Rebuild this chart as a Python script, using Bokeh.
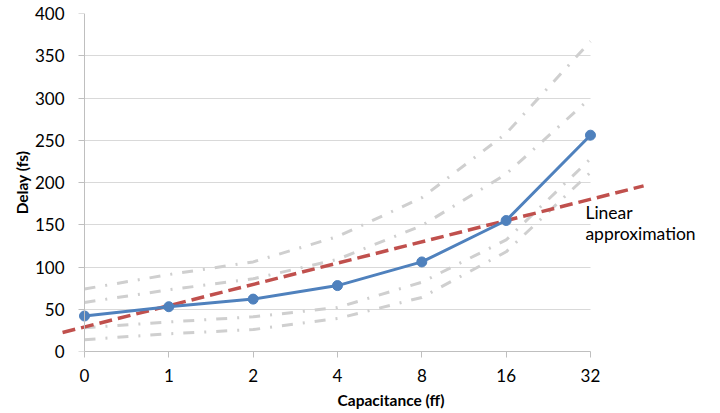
from bokeh.plotting import figure
from bokeh.models import Range1d, FixedTicker, Label, LinearAxis
from bokeh.embed import file_html
from bokeh.resources import INLINE

# ---- data -------------------------------------------------------------
cap_labels = ["0", "1", "2", "4", "8", "16", "32"]      # capacitance (ff)
delay = [42, 53, 62, 78, 106, 155, 256]                  # nominal delay (fs)
corner_1 = [74, 91, 106, 136, 182, 258, 367]
corner_2 = [58, 73, 86, 109, 149, 210, 300]
corner_3 = [28, 35, 41, 52, 82, 132, 228]
corner_4 = [14, 21, 26, 39, 64, 118, 212]
linear_x = [-0.26, 6.63]                                  # category-index units
linear_y = [22.5, 196]
y_ticks = [0, 50, 100, 150, 200, 250, 300, 350, 400]

idx = list(range(len(cap_labels)))

FONT = "Lato"
AXIS_COLOR = "#BFBFBF"
GRID_COLOR = "#D9D9D9"

p = figure(width=720, height=413,
           x_range=Range1d(-0.2727, 7.542), y_range=Range1d(0, 400),
           output_backend="svg", toolbar_location=None,
           min_border_left=61, min_border_right=0,
           min_border_top=13, min_border_bottom=62)
p.outline_line_color = None
p.background_fill_color = "white"
p.border_fill_color = "white"

# grid
p.xgrid.visible = False
p.ygrid.ticker = FixedTicker(ticks=y_ticks)
p.ygrid.grid_line_color = GRID_COLOR
p.ygrid.grid_line_width = 1
try:
    p.ygrid.cross_bounds = (0, len(cap_labels) - 1)
    _cb = True
except Exception:
    _cb = False

# y axis labels (regular axis in the left panel, no line / ticks)
ya = p.yaxis[0]
ya.ticker = FixedTicker(ticks=y_ticks)
ya.axis_line_color = None
ya.major_tick_line_color = None
ya.minor_tick_line_color = None
ya.major_tick_out = 0
ya.major_tick_in = 0
ya.major_label_standoff = -3
ya.major_label_text_font = FONT
ya.major_label_text_font_size = "17px"
ya.major_label_text_color = "#000000"
ya.axis_label = "Delay (fs)"
ya.axis_label_text_font = FONT
ya.axis_label_text_font_style = "bold"
ya.axis_label_text_font_size = "15.5px"
ya.axis_label_text_color = "#000000"
ya.axis_label_standoff = 1

# y axis line and ticks drawn at x = 0 (category "0")
ya_line = LinearAxis(ticker=FixedTicker(ticks=y_ticks), fixed_location=0,
                     bounds=(y_ticks[0], y_ticks[-1]),
                     axis_line_color=AXIS_COLOR, major_tick_line_color=AXIS_COLOR,
                     major_tick_out=6, major_tick_in=0,
                     minor_tick_line_color=None,
                     major_label_text_color=None)
p.add_layout(ya_line, "left")

# x axis
xa = p.xaxis[0]
xa.ticker = FixedTicker(ticks=idx)
xa.major_label_overrides = {i: lab for i, lab in zip(idx, cap_labels)}
xa.bounds = (idx[0], idx[-1])
xa.axis_line_color = AXIS_COLOR
xa.major_tick_line_color = AXIS_COLOR
xa.major_tick_out = 6
xa.major_tick_in = 0
xa.minor_tick_line_color = None
xa.major_label_standoff = 11
xa.major_label_text_font = FONT
xa.major_label_text_font_size = "17px"
xa.major_label_text_color = "#000000"
xa.axis_label = "Capacitance (ff)"
xa.axis_label_text_font = FONT
xa.axis_label_text_font_style = "bold"
xa.axis_label_text_font_size = "15.5px"
xa.axis_label_text_color = "#000000"
xa.axis_label_standoff = 6

# manual grid fallback if cross_bounds is unavailable
if not _cb:
    p.ygrid.visible = False
    p.segment(x0=[idx[0]] * len(y_ticks), x1=[idx[-1]] * len(y_ticks),
              y0=y_ticks, y1=y_ticks, line_color=GRID_COLOR, line_width=1,
              level="underlay")

# corner curves (gray dash-dot)
for c in (corner_1, corner_2, corner_3, corner_4):
    p.line(idx, c, line_color="#CFCFCF", line_width=3, line_dash="11 10 2 10")

# linear approximation
p.line(linear_x, linear_y, line_color="#C0504D", line_width=3.5, line_dash="13 6")

# nominal delay
p.line(idx, delay, line_color="#4F81BD", line_width=3)
p.scatter(idx, delay, size=10, color="#4F81BD")

p.add_layout(Label(x=5.94, y=165, text="Linear", text_font=FONT,
                   text_font_size="17.5px", text_baseline="middle",
                   text_color="#000000"))
p.add_layout(Label(x=5.94, y=139.5, text="approximation", text_font=FONT,
                   text_font_size="17.5px", text_baseline="middle",
                   text_color="#000000"))

open("out.html", "w").write(file_html(p, INLINE))
